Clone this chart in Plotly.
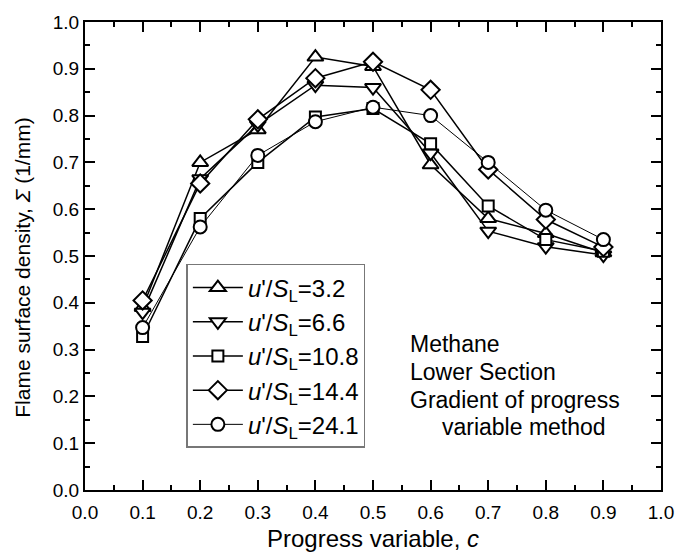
import plotly.graph_objects as go

c = [0.1, 0.2, 0.3, 0.4, 0.5, 0.6, 0.7, 0.8, 0.9]
s32 = [0.39, 0.70, 0.77, 0.925, 0.905, 0.695, 0.58, 0.548, 0.507]
s66 = [0.38, 0.665, 0.78, 0.865, 0.86, 0.72, 0.553, 0.52, 0.502]
s108 = [0.328, 0.58, 0.70, 0.797, 0.815, 0.74, 0.607, 0.535, 0.51]
s144 = [0.405, 0.655, 0.792, 0.88, 0.915, 0.855, 0.685, 0.578, 0.519]
s241 = [0.347, 0.562, 0.715, 0.787, 0.818, 0.80, 0.70, 0.598, 0.535]

labels = ["3.2", "6.6", "10.8", "14.4", "24.1"]
series = [s32, s66, s108, s144, s241]
symbols = ["triangle-up", "triangle-down", "square", "diamond", "circle"]
sizes = [14, 14, 11, 14, 13]
lwidths = [1.5, 1.5, 1.5, 1.5, 1.0]

fig = go.Figure()
for lab, ys, sym, sz, lw in zip(labels, series, symbols, sizes, lwidths):
    fig.add_trace(go.Scatter(
        x=c, y=ys, mode="lines+markers",
        name="<i>u</i>'/<i>S</i><sub>L</sub>=" + lab,
        line=dict(color="black", width=lw),
        marker=dict(symbol=sym, size=sz, color="white",
                    line=dict(color="black", width=2)),
    ))

axis_common = dict(
    showline=True, linecolor="black", linewidth=2, mirror="allticks",
    ticks="inside", ticklen=10, tickwidth=2, tickcolor="black",
    showgrid=False, zeroline=False,
    tickfont=dict(family="Liberation Sans, Arial", size=19, color="black"),
    minor=dict(ticks="inside", ticklen=5, tickwidth=2, tickcolor="black", dtick=0.05),
)

fig.update_layout(
    width=686, height=560,
    margin=dict(l=85, r=15, t=17, b=67),
    plot_bgcolor="white", paper_bgcolor="white",
    font=dict(family="Liberation Sans, Arial", size=20, color="black"),
    xaxis=dict(range=[0, 1], dtick=0.1, tickformat=".1f", ticklabelstandoff=4,
               title=dict(text="Progress variable, <i>c</i>", font=dict(size=24), standoff=8),
               **axis_common),
    yaxis=dict(range=[0, 1], dtick=0.1, tickformat=".1f", **axis_common),
    showlegend=True,
    legend=dict(x=0.176, y=0.483, xanchor="left", yanchor="top",
                bordercolor="#777777", borderwidth=1.5, bgcolor="white",
                font=dict(size=24), itemwidth=50, tracegroupgap=0),
)

# y-axis title as rotated annotation (slightly below plot centre, as in the reference)
fig.add_annotation(x=-0.1075, y=0.475, xref="paper", yref="paper",
                   text="Flame surface density, <i>Σ</i> (1/mm)", textangle=-90,
                   showarrow=False, xanchor="center", yanchor="middle",
                   font=dict(size=21, color="black"))

notes = ["Methane", "Lower Section", "Gradient of progress", "&nbsp;&nbsp;&nbsp;&nbsp;&nbsp;variable method"]
ypos = [0.311, 0.252, 0.193, 0.134]
for t, yv in zip(notes, ypos):
    fig.add_annotation(x=0.56, y=yv, xref="paper", yref="paper", text=t,
                       showarrow=False, xanchor="left", yanchor="middle",
                       font=dict(size=23, color="black"))

fig.write_html("out.html")
